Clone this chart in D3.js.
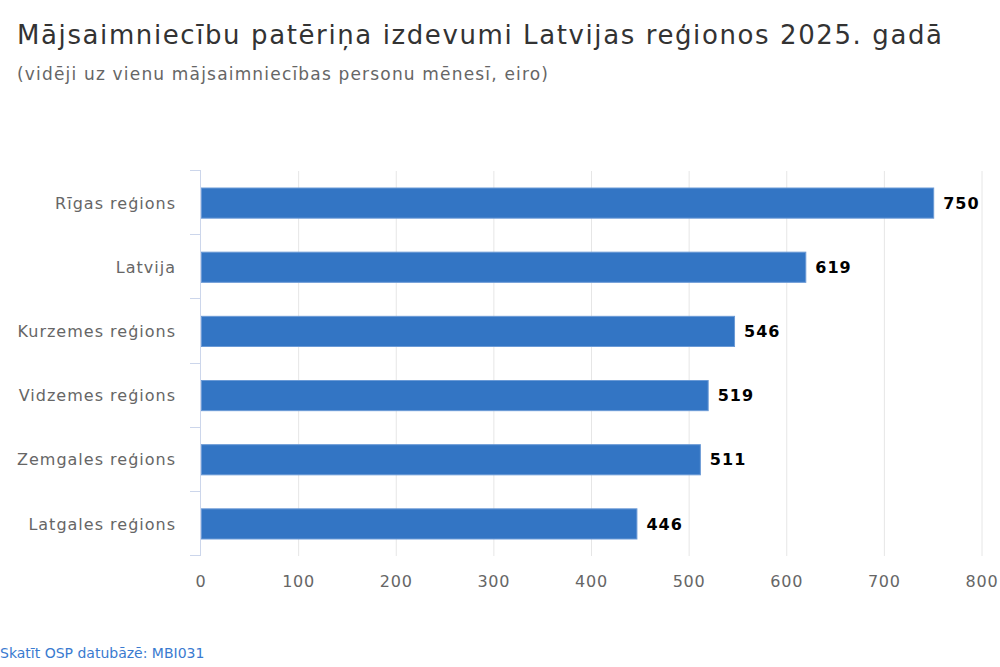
<!DOCTYPE html>
<html>
<head>
<meta charset="utf-8">
<script src="https://cdn.jsdelivr.net/npm/d3@7"></script>
<style>
  body { margin: 0; background: #fff; }
  svg { font-family: "DejaVu Sans", sans-serif; }
</style>
</head>
<body>
<div id="chart"></div>
<script>
const categories = ["Rīgas reģions", "Latvija", "Kurzemes reģions", "Vidzemes reģions", "Zemgales reģions", "Latgales reģions"];
const values = [750, 619, 546, 519, 511, 446];
const xTicks = [0, 100, 200, 300, 400, 500, 600, 700, 800];

const width = 1000, height = 667;
const margin = {top: 171, right: 18, bottom: 111, left: 201};

const svg = d3.select("#chart").append("svg")
    .attr("width", width)
    .attr("height", height);

const x = d3.scaleLinear()
    .domain([0, 800])
    .range([margin.left, width - margin.right]);

const y = d3.scaleBand()
    .domain(categories)
    .range([margin.top, height - margin.bottom])
    .paddingInner(0.53)
    .paddingOuter(0.265);

// title
svg.append("text")
    .attr("x", 17).attr("y", 44)
    .attr("font-size", 26)
    .attr("fill", "#333")
    .attr("textLength", 925)
    .attr("lengthAdjust", "spacing")
    .text("Mājsaimniecību patēriņa izdevumi Latvijas reģionos 2025. gadā");

svg.append("text")
    .attr("x", 17).attr("y", 80)
    .attr("font-size", 17)
    .attr("fill", "#666")
    .attr("textLength", 531)
    .attr("lengthAdjust", "spacing")
    .text("(vidēji uz vienu mājsaimniecības personu mēnesī, eiro)");

// grid
svg.append("g")
    .selectAll("line")
    .data(xTicks.slice(1))
    .join("line")
        .attr("x1", d => x(d)).attr("x2", d => x(d))
        .attr("y1", margin.top).attr("y2", height - margin.bottom)
        .attr("stroke", "#e6e6e6")
        .attr("stroke-width", 1);

// x axis labels
svg.append("g")
    .selectAll("text")
    .data(xTicks)
    .join("text")
        .attr("x", d => x(d))
        .attr("y", 587)
        .attr("text-anchor", "middle")
        .attr("font-size", 16)
        .attr("letter-spacing", 0.8)
        .attr("fill", "#666")
        .text(d => d);

// y axis line and ticks at band boundaries
const step = y.step();
const bounds = d3.range(categories.length + 1).map(i => margin.top + i * step);
svg.append("line")
    .attr("x1", margin.left - 0.5).attr("x2", margin.left - 0.5)
    .attr("y1", margin.top).attr("y2", height - margin.bottom)
    .attr("stroke", "#ccd6eb");
svg.append("g")
    .selectAll("line")
    .data(bounds)
    .join("line")
        .attr("x1", margin.left - 11).attr("x2", margin.left)
        .attr("y1", d => Math.round(d) - 0.5).attr("y2", d => Math.round(d) - 0.5)
        .attr("stroke", "#ccd6eb");

// category labels
svg.append("g")
    .selectAll("text")
    .data(categories)
    .join("text")
        .attr("x", margin.left - 25)
        .attr("y", d => y(d) + y.bandwidth() / 2)
        .attr("dy", "0.35em")
        .attr("text-anchor", "end")
        .attr("font-size", 16)
        .attr("letter-spacing", 1)
        .attr("fill", "#666")
        .text(d => d);

// bars
svg.append("g")
    .selectAll("rect")
    .data(values)
    .join("rect")
        .attr("x", x(0) + 0.5)
        .attr("y", (d, i) => y(categories[i]))
        .attr("width", d => x(d) - x(0))
        .attr("height", y.bandwidth())
        .attr("fill", "#3375c4")
        .attr("stroke", "#6b9ad6")
        .attr("stroke-width", 1);

// value labels
svg.append("g")
    .selectAll("text")
    .data(values)
    .join("text")
        .attr("x", d => x(d) + 10)
        .attr("y", (d, i) => y(categories[i]) + y.bandwidth() / 2)
        .attr("dy", "0.35em")
        .attr("font-size", 16)
        .attr("font-weight", "bold")
        .attr("letter-spacing", 1)
        .attr("fill", "#000")
        .text(d => d);

// footer link
svg.append("text")
    .attr("x", 0).attr("y", 658)
    .attr("font-size", 14)
    .attr("fill", "#3a7bd0")
    .text("Skatīt OSP datubāzē: MBI031");
</script>
</body>
</html>
